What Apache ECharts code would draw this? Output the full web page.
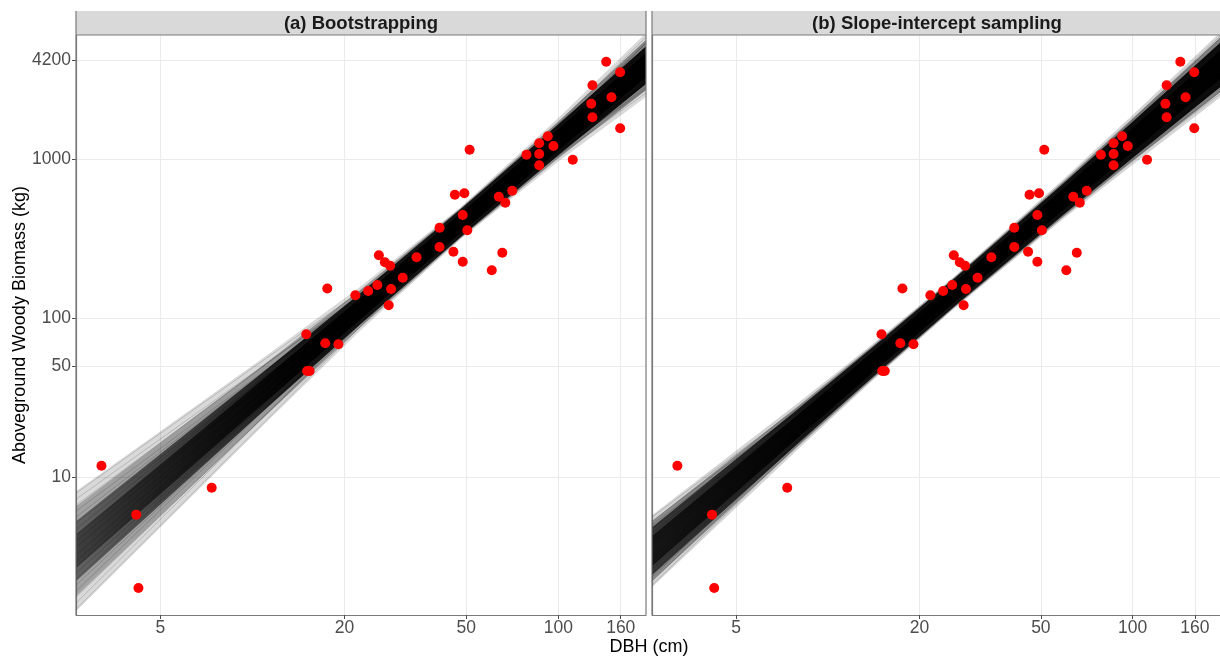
<!DOCTYPE html>
<html><head><meta charset="utf-8">
<script src="https://cdn.jsdelivr.net/npm/echarts@6/dist/echarts.min.js"></script>
<style>html,body{margin:0;padding:0;background:#fff}#c{width:1220px;height:656px}</style>
</head><body><div id="c"></div>
<script>
// ---------- data ----------
const panelTitles = ['(a) Bootstrapping', '(b) Slope-intercept sampling'];
const xTitle = 'DBH (cm)';
const yTitle = 'Aboveground Woody Biomass (kg)';
const xTicks = [5, 20, 50, 100, 160];
const yTicks = [10, 50, 100, 1000, 4200];
const xRange = [2.65, 193.5];
const yRange = [1.36, 6053];

// observed trees
const dbh = [3.21, 4.17, 4.24, 7.36, 15.0, 15.09, 15.38, 17.3, 17.57, 19.1, 21.7, 23.9, 25.6, 25.9, 27.1, 28.2,
  28.4, 27.9, 31.0, 34.4, 40.9, 40.9, 45.4, 45.9, 49.3, 48.7, 48.7, 50.4, 51.3, 60.6, 63.9, 65.6,
  67.1, 70.7, 78.7, 86.6, 86.6, 86.6, 92.4, 96.4, 111.5, 128.1, 129.3, 129.3, 143.4, 149.2, 159.3, 159.3];
const biomass = [11.8, 5.82, 2.01, 8.60, 79.3, 46.6, 46.6, 69.6, 153.9, 68.6, 139.7, 148.5, 162.0, 249.4, 225.3, 214.2,
  152.9, 120.7, 180.0, 241.9, 371.4, 280.8, 262.4, 599.0, 611, 446.3, 227.0, 357.7, 1149, 200.4, 581.9, 258.6,
  533.3, 634.6, 1069, 1261, 1080, 917, 1395, 1212, 994, 2237, 1840, 2920, 4110, 2454, 3525, 1567];

// sampled fitted lines: biomass at the left (xRange[0]) and right (xRange[1]) ends
const bootLineLeft = [7.943, 7.281, 6.674, 6.120, 5.610, 5.143, 4.717, 4.323, 3.964, 3.635,
  3.236, 2.967, 2.720, 2.494, 2.286, 2.096, 1.921, 1.762, 1.615, 1.481];
const bootLineRight = [2768, 2612, 3020, 2849, 3293, 3064, 3593, 3293, 3863, 3541,
  4274, 3976, 4663, 4274, 5012, 4663, 5389, 4940, 5878, 5389];
const sisLineLeft = [5.610, 5.295, 4.996, 4.717, 4.451, 4.201, 3.964, 3.740,
  3.145, 2.967, 2.800, 2.642, 2.494, 2.354, 2.221, 2.096];
const sisLineRight = [2650, 2575, 2933, 2849, 3246, 3154, 3593, 3490,
  4400, 4274, 4869, 4730, 5389, 5235, 5964, 5793];

// envelopes of the sampled lines (outer, mid, core, inner)
const bootBandX = [2.65, 10.5, 22.5, 48, 100, 193.5];
const bootOuterHi = [8.18, 53.95, 157.8, 501.7, 1816, 6237];
const bootOuterLo = [1.438, 19.98, 83.43, 315.8, 969.0, 2462];
const bootMidHi = [6.579, 48.40, 150.4, 494.6, 1731, 5652];
const bootMidLo = [1.787, 22.27, 87.5, 320.4, 1016, 2716];
const bootCoreHi = [5.295, 43.67, 143.8, 487.6, 1660, 5152];
const bootCoreLo = [2.221, 24.68, 91.54, 325.0, 1059, 2981];
const bootInnerHi = [4.386, 39.24, 133.8, 460.3, 1546, 4663];
const bootInnerLo = [2.681, 27.47, 98.4, 344.4, 1137, 3293];

const sisBandX = [2.65, 8, 14, 26, 60, 100, 193.5];
const sisOuterHi = [5.775, 29.37, 68.54, 183.4, 765.1, 1902, 6273];
const sisOuterLo = [2.036, 15.04, 40.45, 115.4, 429.8, 924.7, 2448];
const sisMidHi = [5.295, 28.12, 66.97, 180.8, 742.1, 1808, 5818];
const sisMidLo = [2.221, 15.71, 41.40, 117.1, 443.2, 972.7, 2638];
const sisCoreHi = [4.855, 26.97, 65.43, 178.2, 719.8, 1723, 5397];
const sisCoreLo = [2.423, 16.38, 42.38, 118.8, 456.9, 1020, 2845];
const sisInnerHi = [4.262, 24.83, 61.21, 168.2, 670.6, 1578, 4800];
const sisInnerLo = [2.760, 17.79, 45.29, 125.9, 490.6, 1115, 3199];

// ---------- chart ----------
const FONT = '"Liberation Sans", Arial, sans-serif';
const chart = echarts.init(document.getElementById('c'), null, {renderer: 'canvas'});

function grad(stops) {
  return new echarts.graphic.LinearGradient(0, 0, 1, 0,
    stops.map(s => ({offset: s[0], color: 'rgba(0,0,0,' + s[1] + ')'})));
}

function bandSeries(g, xs, hi, lo, fill, z) {
  return {
    type: 'custom', xAxisIndex: g, yAxisIndex: g, clip: true, silent: true, z: z,
    data: [[xs[0], hi[0]]],
    renderItem: function (params, api) {
      const pts = [];
      for (let i = 0; i < xs.length; i++) pts.push(api.coord([xs[i], hi[i]]));
      for (let i = xs.length - 1; i >= 0; i--) pts.push(api.coord([xs[i], lo[i]]));
      return {type: 'polygon', shape: {points: pts}, style: {fill: fill}};
    }
  };
}

function lineSeries(g, left, right) {
  return {
    type: 'lines', coordinateSystem: 'cartesian2d', xAxisIndex: g, yAxisIndex: g,
    clip: true, silent: true, z: 4,
    lineStyle: {color: '#000', width: 0.8, opacity: 0.2},
    data: left.map((l, i) => ({coords: [[xRange[0], l], [xRange[1], right[i]]]}))
  };
}

function pointSeries(g) {
  return {
    type: 'scatter', xAxisIndex: g, yAxisIndex: g, z: 6, silent: true,
    symbol: 'circle', symbolSize: 10, itemStyle: {color: '#FF0000', opacity: 1},
    data: dbh.map((x, i) => [x, biomass[i]])
  };
}

function xAxis(g) {
  return {
    type: 'log', logBase: 10, gridIndex: g, min: xRange[0], max: xRange[1],
    axisLine: {show: true, onZero: false, lineStyle: {color: '#7a7a7a', width: 1.2}},
    axisTick: {show: true, length: 4, customValues: xTicks, lineStyle: {color: '#4d4d4d', width: 1}},
    axisLabel: {show: true, customValues: xTicks, color: '#4d4d4d', fontSize: 17.5, fontFamily: FONT, margin: 4,
      formatter: v => String(Math.round(v))},
    splitLine: {show: true, lineStyle: {color: '#ebebeb', width: 1.1}},
    minorTick: {show: false}, minorSplitLine: {show: false}
  };
}

function yAxis(g) {
  return {
    type: 'log', logBase: 10, gridIndex: g, min: yRange[0], max: yRange[1], position: 'left',
    axisLine: {show: true, onZero: false, lineStyle: {color: '#7a7a7a', width: 1.2}},
    axisTick: {show: g === 0, length: 4, customValues: yTicks, lineStyle: {color: '#4d4d4d', width: 1}},
    axisLabel: {show: g === 0, customValues: yTicks, color: '#4d4d4d', fontSize: 17.5, fontFamily: FONT, margin: 5,
      formatter: v => String(Math.round(v))},
    splitLine: {show: true, lineStyle: {color: '#ebebeb', width: 1.1}},
    minorTick: {show: false}, minorSplitLine: {show: false}
  };
}

const grids = [
  {left: 76, top: 35, width: 570, height: 580},
  {left: 652, top: 35, width: 570, height: 580}
];

const series = [
  bandSeries(0, bootBandX, bootOuterHi, bootOuterLo, 'rgba(0,0,0,0.15)', 1),
  bandSeries(0, bootBandX, bootMidHi, bootMidLo, grad([[0, 0.25], [1, 0.4]]), 2),
  bandSeries(0, bootBandX, bootCoreHi, bootCoreLo, grad([[0, 0.4], [0.4, 0.85], [1, 0.9]]), 3),
  bandSeries(0, bootBandX, bootInnerHi, bootInnerLo, grad([[0, 0.35], [0.4, 0.9], [1, 0.95]]), 3),
  lineSeries(0, bootLineLeft, bootLineRight),
  pointSeries(0),
  bandSeries(1, sisBandX, sisOuterHi, sisOuterLo, 'rgba(0,0,0,0.17)', 1),
  bandSeries(1, sisBandX, sisMidHi, sisMidLo, grad([[0, 0.35], [1, 0.4]]), 2),
  bandSeries(1, sisBandX, sisCoreHi, sisCoreLo, grad([[0, 0.6], [0.3, 0.85], [1, 0.9]]), 3),
  bandSeries(1, sisBandX, sisInnerHi, sisInnerLo, grad([[0, 0.6], [0.3, 0.9], [1, 0.95]]), 3),
  lineSeries(1, sisLineLeft, sisLineRight),
  pointSeries(1)
];

function txt(x, y, text, font, fill, rot) {
  return {type: 'text', x: x, y: y, rotation: rot || 0, z: 101, silent: true,
    style: {text: text, font: font, fill: fill, textAlign: 'center', textVerticalAlign: 'middle',
      align: 'center', verticalAlign: 'middle'}};
}

const graphic = [
  {type: 'rect', z: 100, silent: true, shape: {x: 76, y: 11, width: 570, height: 24}, style: {fill: '#d9d9d9'}},
  {type: 'rect', z: 100, silent: true, shape: {x: 652, y: 11, width: 570, height: 24}, style: {fill: '#d9d9d9'}},
  {type: 'line', z: 101, silent: true, shape: {x1: 76, y1: 35, x2: 646, y2: 35}, style: {stroke: '#7a7a7a', lineWidth: 1.2}},
  {type: 'line', z: 101, silent: true, shape: {x1: 652, y1: 35, x2: 1222, y2: 35}, style: {stroke: '#7a7a7a', lineWidth: 1.2}},
  {type: 'line', z: 101, silent: true, shape: {x1: 76, y1: 11, x2: 76, y2: 615}, style: {stroke: '#7a7a7a', lineWidth: 1.2}},
  {type: 'line', z: 101, silent: true, shape: {x1: 646, y1: 11, x2: 646, y2: 615}, style: {stroke: '#7a7a7a', lineWidth: 1.2}},
  {type: 'line', z: 101, silent: true, shape: {x1: 652, y1: 11, x2: 652, y2: 615}, style: {stroke: '#7a7a7a', lineWidth: 1.2}},
  txt(361, 24, panelTitles[0], 'bold 18.5px ' + FONT, '#1a1a1a'),
  txt(937, 24, panelTitles[1], 'bold 18.5px ' + FONT, '#1a1a1a'),
  txt(649, 647, xTitle, '18px ' + FONT, '#000'),
  txt(20, 325, yTitle, '18px ' + FONT, '#000', Math.PI / 2)
];

chart.setOption({
  animation: false,
  backgroundColor: '#ffffff',
  grid: grids,
  xAxis: [xAxis(0), xAxis(1)],
  yAxis: [yAxis(0), yAxis(1)],
  series: series,
  graphic: graphic
});
</script></body></html>
